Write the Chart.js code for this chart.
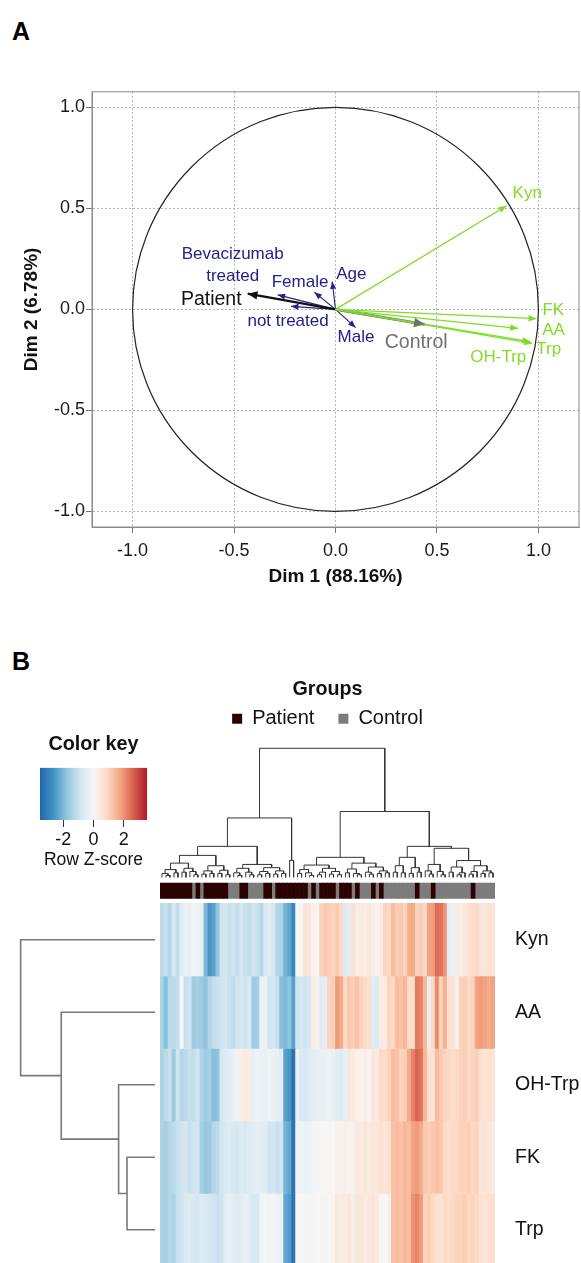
<!DOCTYPE html>
<html>
<head>
<meta charset="utf-8">
<script src="https://cdn.jsdelivr.net/npm/chart.js@4.4.1/dist/chart.umd.min.js"></script>
<style>
  html, body { margin: 0; padding: 0; background: #fff; overflow: hidden; }
  #page { position: relative; width: 581px; height: 1263px; overflow: hidden; font-family: "Liberation Sans", Arial, sans-serif; }
  canvas { position: absolute; }
  .panel { position: absolute; font-weight: bold; font-size: 25px; line-height: 1; color: #000; }
</style>
</head>
<body>
<div id="page">
  <div class="panel" style="left:12px; top:19px;">A</div>
  <div class="panel" style="left:12px; top:649px;">B</div>
  <canvas id="pca" width="581" height="520" style="left:0; top:80px;"></canvas>
  <canvas id="key" width="130" height="146" style="left:30px; top:729px;"></canvas>
  <canvas id="heat" width="581" height="596" style="left:0; top:670px;"></canvas>
</div>
<script>
// ---- panel A: variables on the first two dimensions ----
const varNames = ['Kyn', 'FK', 'AA', 'Trp', 'OH-Trp', 'Patient', 'Control', 'Age', 'Female', 'Male', 'Bevacizumab treated', 'not treated'];
const varKind = ['active', 'active', 'active', 'active', 'active', 'Patient', 'Control', 'supp', 'supp', 'supp', 'supp', 'supp'];
const dim1 = [0.843, 0.990, 0.900, 0.970, 0.960, -0.433, 0.440, -0.016, -0.104, 0.099, -0.285, -0.219];
const dim2 = [0.513, -0.046, -0.094, -0.168, -0.160, 0.078, -0.074, 0.138, 0.085, -0.090, 0.072, 0.015];
const axisTicks = [-1, -0.5, 0, 0.5, 1];

// ---- panel B: heatmap (row z-scores), sample groups, dendrograms ----
const metabolites = ['Kyn', 'AA', 'OH-Trp', 'FK', 'Trp'];
const zKyn = [-1.2, -1.0, -1.3, -0.7, -1.1, -0.5, -0.3, -0.4, -0.1, -0.2,
  -0.3, -2.0, -2.6, -2.4, -1.8, -0.9, -0.8, -1.0, -0.9, -1.1,
  -0.8, -1.0, -1.1, -0.9, -1.0, -1.3, -0.7, -0.5, -0.8, -1.3,
  -1.4, -2.1, -2.3, -2.9, 0.0, 0.1, 0.6, 0.5, 0.2, 0.1,
  1.0, 1.2, 1.1, 1.0, 1.2, 0.9, -0.6, -0.5, 0.7, 0.3,
  0.4, 0.3, 0.5, 0.3, 0.2, 0.4, 1.0, 0.9, 1.4, 1.1,
  1.2, 1.0, 1.6, 1.7, 1.0, 1.1, 0.9, 1.8, 1.9, 2.5,
  2.4, 2.0, -0.4, -0.3, 0.4, 0.3, 0.5, 0.7, 0.8, 0.9,
  0.6, 0.5, 0.7, 0.6];
const zAA = [-1.4, -1.9, -1.2, -1.2, -1.1, -0.1, -1.0, -0.9, -1.6, -1.5,
  -1.6, -1.8, -1.3, -1.1, -1.0, -0.9, -0.8, -1.0, -1.1, -0.9,
  -0.8, -0.9, -0.7, -1.6, -1.5, -0.2, -0.3, -0.9, -0.8, -1.0,
  -1.9, -2.0, -1.8, -2.4, -0.9, -0.8, -0.9, -0.7, 0.3, 0.2,
  -0.5, -0.4, 1.0, 1.1, 1.9, 1.7, 0.9, 1.2, 1.1, 1.3,
  1.0, 0.9, 0.8, -0.5, -0.6, 0.4, 0.3, 1.0, 0.9, 1.4,
  1.3, 1.5, 0.9, 0.8, 2.3, 2.2, 1.5, -0.4, 0.9, 2.1,
  1.0, 1.6, 0.7, 0.6, 0.2, 1.0, 1.1, 0.9, 1.0, 1.8,
  1.9, 1.8, 1.7, 1.8];
const zOHTrp = [-1.4, -1.2, -1.0, -1.6, -0.9, -1.3, -1.2, -1.0, -1.1, -0.9,
  -1.4, -1.6, -1.5, -1.9, -1.8, -0.7, -0.6, -0.5, -0.3, -0.2,
  0.3, 0.4, 0.3, -0.3, -0.2, -0.3, -0.3, -0.2, -0.3, -0.4,
  -0.5, -2.4, -2.6, -3.3, -0.3, -0.7, -0.8, -0.6, -0.5, -0.4,
  -0.3, -0.3, -0.2, -0.3, -0.5, -0.6, -0.4, 0.5, 0.4, 0.2,
  0.2, 0.3, 0.1, 0.5, 0.4, 0.9, 0.8, 1.0, 1.4, 1.3,
  1.0, 1.1, 1.7, 2.2, 2.6, 2.4, 1.5, 0.7, 0.6, 1.4,
  1.2, 1.0, 0.9, 0.8, 0.9, 1.0, 1.1, 0.9, 1.0, 1.1,
  0.7, 0.6, 0.7, 0.6];
const zFK = [-1.4, -1.5, -1.3, -1.2, -1.0, -0.9, -0.8, -1.0, -0.9, -0.8,
  -1.5, -1.7, -1.6, -1.3, -1.2, -0.8, -0.7, -0.6, -0.7, -0.8,
  -0.6, -0.7, -0.6, -0.5, -0.4, -0.5, -0.5, -0.9, -0.8, -1.0,
  -0.9, -2.1, -2.3, -3.3, -0.2, -0.2, -0.3, -0.2, -0.1, -0.1,
  0.0, 0.0, 0.1, 0.0, 0.2, 0.2, 0.3, 0.2, 0.2, 0.4,
  0.4, 0.5, 0.4, 0.5, 0.5, 0.7, 0.6, 0.7, 1.3, 1.4,
  1.3, 1.5, 1.4, 1.8, 1.9, 1.7, 1.2, 1.1, 1.2, 1.3,
  1.2, 0.9, 0.8, 0.9, 0.9, 1.0, 1.0, 1.1, 0.9, 1.0,
  0.5, 0.6, 0.5, 0.4];
const zTrp = [-1.4, -1.5, -1.3, -1.4, -1.0, -0.9, -0.7, -0.6, -0.7, -0.8,
  -0.6, -0.7, -0.8, -0.9, -1.0, -0.9, -0.5, -0.4, -0.5, -0.6,
  -0.5, -0.4, -0.5, -0.7, -0.7, -0.2, -0.1, -0.2, -0.1, -0.2,
  -0.3, -2.3, -2.5, -3.3, 0.0, 0.0, -0.1, 0.1, -0.1, 0.0,
  0.1, -0.1, 0.0, 0.1, 0.4, 0.3, 0.4, 0.5, 0.3, 0.5,
  0.5, 0.4, 0.5, 0.6, 0.4, 0.1, 0.0, 0.2, 1.3, 1.4,
  1.3, 1.5, 1.4, 2.0, 2.2, 1.9, 1.0, 1.1, 0.9, 0.7,
  0.6, 0.9, 0.8, 0.9, 1.0, 1.0, 1.1, 0.9, 1.0, 0.9,
  0.7, 0.6, 0.7, 0.8];
// P = Patient, C = Control, in heatmap column order
const sampleGroup = ('PPPPPPPP CPC PPPPPP CCC PP CCCC PP C PPPPPPPP CPC ' +
  'PPPP C PPP C P CCC P C P CCCCCCCC P CCC P CCCCCCCCC P CCCCC').replace(/ /g, '').split('');
const groupNames = ['Patient', 'Control'];
const keyRange = [-3.55, 3.55];
const keyTicks = [-2, 0, 2];
// dendrograms: [mergeHeight, left, right], leaves are column / row indices
const colTree = [10,
  [4.6,
    [2.4,
      [1.7,
        [1.1, [0.6, [0.3, 0, [0.15, 1, 2]], [0.35, 3, 4]], [0.7, [0.4, 5, 6], [0.45, 7, [0.2, 8, 9]]]],
        [0.9, [0.5, [0.25, 10, 11], [0.3, 12, 13]], [0.55, [0.3, 14, 15], [0.2, 16, 17]]]],
      [1.0,
        [0.7, [0.35, 18, [0.15, 19, 20]], [0.4, 21, [0.2, 22, 23]]],
        [0.75, [0.45, [0.2, 24, 25], [0.3, 26, 27]], [0.5, [0.25, 28, 29], [0.3, 30, 31]]]]],
    [1.3, 32, 33]],
  [5.1,
    [1.55,
      [0.95, [0.6, [0.3, 34, 35], [0.35, 36, [0.15, 37, 38]]], [0.7, [0.4, [0.2, 39, 40], 41], [0.45, [0.25, 42, 43], [0.2, 44, 45]]]],
      [1.1, [0.65, [0.35, 46, 47], [0.3, 48, [0.2, 49, 50]]], [0.8, [0.4, 51, [0.25, 52, 53]], [0.5, [0.3, 54, 55], [0.35, 56, 57]]]]],
    [2.4,
      [1.55, [0.9, [0.4, 58, 59], [0.35, 60, 61]], [0.75, [0.3, 62, 63], [0.4, 64, 65]]],
      [2.25,
        [1.0, [0.5, 66, [0.25, 67, 68]], [0.45, 69, [0.2, 70, 71]]],
        [1.3, [0.8, [0.4, 72, 73], [0.35, [0.2, 74, 75], 76]], [0.9, [0.45, [0.25, 77, 78], 79], [0.5, [0.3, 80, 81], [0.35, 82, 83]]]]]]]];
const rowTree = [4.8, 0, [3.35, 1, [1.3, 2, [1.0, 3, 4]]]];

Chart.defaults.font.family = '"Liberation Sans", Arial, sans-serif';
Chart.defaults.color = '#111';

// ================= panel A =================
const kindStyle = {
  active: { color: '#80dc26', width: 1.3, font: 17 },
  Patient: { color: '#111111', width: 2.2, font: 19.5 },
  Control: { color: '#707070', width: 2.6, font: 19.5 },
  supp: { color: '#22228a', width: 1.1, font: 17 }
};
const labelPlace = {
  'Kyn': { dx: 6, dy: -12, align: 'left' },
  'FK': { dx: 6, dy: -8, align: 'left' },
  'AA': { dx: 24, dy: 2, align: 'left' },
  'Trp': { dx: 4, dy: 6, align: 'left' },
  'OH-Trp': { dx: -4, dy: 16, align: 'right' },
  'Patient': { dx: -6, dy: 6, align: 'right' },
  'Control': { dx: -40, dy: 18, align: 'left' },
  'Age': { dx: 4, dy: -7, align: 'left' },
  'Female': { dx: 14, dy: -10, align: 'right' },
  'Male': { dx: -18, dy: 10, align: 'left' },
  'Bevacizumab treated': { dx: -45, dy: -41, align: 'center', lines: ['Bevacizumab', 'treated'] },
  'not treated': { dx: -3, dy: 15, align: 'center' }
};

const pcaDecor = {
  id: 'pcaDecor',
  beforeDatasetsDraw(chart) {
    const { ctx, chartArea: a, scales: { x, y } } = chart;
    ctx.save();
    ctx.strokeStyle = '#8a8a8a';
    ctx.lineWidth = 1;
    ctx.strokeRect(a.left, a.top, a.right - a.left, a.bottom - a.top);
    const cx = x.getPixelForValue(0), cy = y.getPixelForValue(0);
    ctx.strokeStyle = '#222';
    ctx.lineWidth = 1.2;
    ctx.beginPath();
    ctx.ellipse(cx, cy, x.getPixelForValue(1) - cx, cy - y.getPixelForValue(1), 0, 0, Math.PI * 2);
    ctx.stroke();
    ctx.restore();
  },
  afterDatasetsDraw(chart) {
    const ctx = chart.ctx;
    chart.data.datasets.forEach((ds, i) => {
      const pts = chart.getDatasetMeta(i).data;
      const a = pts[0], b = pts[1];
      const ang = Math.atan2(b.y - a.y, b.x - a.x);
      const len = 5 + ds.borderWidth * 2.2, half = 1.8 + ds.borderWidth * 1.1;
      const st = kindStyle[varKind[i]];
      ctx.save();
      ctx.fillStyle = ds.borderColor;
      ctx.beginPath();
      ctx.moveTo(b.x, b.y);
      ctx.lineTo(b.x - len * Math.cos(ang) + half * Math.sin(ang), b.y - len * Math.sin(ang) - half * Math.cos(ang));
      ctx.lineTo(b.x - len * Math.cos(ang) - half * Math.sin(ang), b.y - len * Math.sin(ang) + half * Math.cos(ang));
      ctx.closePath();
      ctx.fill();
      // label
      const p = labelPlace[ds.label];
      ctx.font = st.font + 'px "Liberation Sans", Arial, sans-serif';
      ctx.textAlign = p.align;
      ctx.textBaseline = 'middle';
      const lines = p.lines || [ds.label];
      lines.forEach((t, k) => ctx.fillText(t, b.x + p.dx, b.y + p.dy + k * 22));
      ctx.restore();
    });
  }
};

const axisStyle = {
  type: 'linear',
  afterBuildTicks: s => { s.ticks = axisTicks.map(v => ({ value: v })); },
  grid: { color: '#b4b4b4', lineWidth: 1, tickLength: 6, tickColor: '#777' },
  border: { color: '#8a8a8a', dash: [2, 2] },
  ticks: { callback: v => v.toFixed(1), font: { size: 18 }, color: '#1a1a1a', maxRotation: 0, autoSkip: false }
};

new Chart(document.getElementById('pca'), {
  type: 'scatter',
  data: {
    datasets: varNames.map((name, i) => ({
      label: name,
      data: [{ x: 0, y: 0 }, { x: dim1[i], y: dim2[i] }],
      showLine: true,
      borderColor: kindStyle[varKind[i]].color,
      borderWidth: kindStyle[varKind[i]].width,
      pointRadius: 0
    }))
  },
  options: {
    responsive: false,
    animation: false,
    events: [],
    layout: { padding: { top: 11, right: 2, left: 0, bottom: 0 } },
    plugins: { legend: { display: false }, tooltip: { enabled: false } },
    scales: {
      x: {
        ...axisStyle, min: -1.2, max: 1.2,
        ticks: { ...axisStyle.ticks, padding: 7 },
        afterFit: s => { s.height = 73; },
        title: { display: true, text: 'Dim 1 (88.16%)', font: { size: 19, weight: 'bold' }, color: '#111', padding: { top: 0, bottom: 11.6 } }
      },
      y: {
        ...axisStyle, min: -1.077, max: 1.077,
        ticks: { ...axisStyle.ticks, padding: 1 },
        afterFit: s => { s.width = 92; },
        title: { display: true, text: 'Dim 2 (6.78%)', font: { size: 19, weight: 'bold' }, color: '#111', padding: { top: 20.6, bottom: 0 } }
      }
    }
  },
  plugins: [pcaDecor]
});

// ================= panel B =================
const palette = ['#2166ac', '#4393c3', '#92c5de', '#d1e5f0', '#f7f7f7', '#fddbc7', '#f4a582', '#d6604d', '#b2182b'];
function hexRgb(h) { return [1, 3, 5].map(k => parseInt(h.slice(k, k + 2), 16)); }
function zColor(v) {
  let t = (v - keyRange[0]) / (keyRange[1] - keyRange[0]);
  t = Math.max(0, Math.min(1, t)) * (palette.length - 1);
  const i = Math.min(Math.floor(t), palette.length - 2), f = t - i;
  const a = hexRgb(palette[i]), b = hexRgb(palette[i + 1]);
  return 'rgb(' + a.map((c, k) => Math.round(c + (b[k] - c) * f)).join(',') + ')';
}

// colour key
new Chart(document.getElementById('key'), {
  type: 'bar',
  data: {
    labels: [''],
    datasets: [{
      data: [keyRange],
      barPercentage: 1, categoryPercentage: 1, borderWidth: 0,
      backgroundColor: c => {
        const area = c.chart.chartArea;
        if (!area) return palette[4];
        const g = c.chart.ctx.createLinearGradient(area.left, 0, area.right, 0);
        palette.forEach((col, i) => g.addColorStop(i / (palette.length - 1), col));
        return g;
      }
    }]
  },
  options: {
    indexAxis: 'y',
    responsive: false,
    animation: false,
    events: [],
    layout: { padding: { left: 10, right: 13, top: 0, bottom: 0 } },
    plugins: {
      legend: { display: false }, tooltip: { enabled: false },
      title: { display: true, text: 'Color key', font: { size: 19.8, weight: 'bold' }, color: '#111', padding: { top: 4, bottom: 11 } }
    },
    scales: {
      y: { display: false },
      x: {
        type: 'linear', min: keyRange[0], max: keyRange[1],
        afterBuildTicks: s => { s.ticks = keyTicks.map(v => ({ value: v })); },
        afterFit: s => { s.height = 55; },
        grid: { drawOnChartArea: false, tickLength: 7, tickColor: '#333' },
        border: { display: false },
        ticks: { font: { size: 18 }, color: '#111', padding: 2, maxRotation: 0 },
        title: { display: true, text: 'Row Z-score', font: { size: 17.5 }, color: '#111', padding: { top: 0, bottom: 4 } }
      }
    }
  }
});

// dendrogram geometry from the trees
function walkTree(node, leafPos, out) {
  if (!Array.isArray(node)) return [leafPos(node), 0];
  const [h, l, r] = node;
  const [pl, hl] = walkTree(l, leafPos, out);
  const [pr, hr] = walkTree(r, leafPos, out);
  out.push([pl, hl, pr, hr, h]);
  return [(pl + pr) / 2, h];
}
const GAP = { x: NaN, y: NaN };
const colLinks = [];
walkTree(colTree, c => c + 0.5, colLinks);
const dendroBase = 5.36, dendroScale = 0.178;
const colPts = [];
colLinks.forEach(([pl, hl, pr, hr, h]) => {
  const Y = v => dendroBase + v * dendroScale;
  colPts.push({ x: pl, y: Y(hl) }, { x: pl, y: Y(h) }, { x: pr, y: Y(h) }, { x: pr, y: Y(hr) }, GAP);
});
const nRows = metabolites.length;
const rowLinks = [];
walkTree(rowTree, r => nRows - r - 0.5, rowLinks);
const rowBase = -1.25, rowScale = 7.02;
const rowPts = [];
rowLinks.forEach(([pl, hl, pr, hr, h]) => {
  const X = v => rowBase - v * rowScale;
  rowPts.push({ x: X(hl), y: pl }, { x: X(h), y: pl }, { x: X(h), y: pr }, { x: X(hr), y: pr }, GAP);
});

const heatRows = [zKyn, zAA, zOHTrp, zFK, zTrp];
const heatSets = heatRows.map((row, i) => ({
  type: 'bar',
  label: metabolites[i],
  data: row.map((v, c) => ({ x: c + 0.5, y: [nRows - i - 1, nRows - i] })),
  backgroundColor: row.map(zColor),
  borderWidth: 0, grouped: false, barPercentage: 1, categoryPercentage: 1
}));
const groupColors = { Patient: '#2b0202', Control: '#7c7c7c' };
const groupSets = groupNames.map(g => ({
  type: 'bar',
  label: g,
  data: sampleGroup.map((s, c) => (s === g[0] ? { x: c + 0.5, y: [5.07, 5.28] } : null)).filter(d => d),
  backgroundColor: groupColors[g],
  borderWidth: 0, grouped: false, barPercentage: 1, categoryPercentage: 1
}));
const lineSet = (pts, color, width) => ({
  type: 'scatter', label: '', data: pts, showLine: true, spanGaps: false,
  borderColor: color, borderWidth: width, pointRadius: 0, clip: false
});

const rowLabels = {
  id: 'rowLabels',
  afterDatasetsDraw(chart) {
    const { ctx, chartArea, scales: { y } } = chart;
    ctx.save();
    ctx.font = '19.5px "Liberation Sans", Arial, sans-serif';
    ctx.fillStyle = '#111';
    ctx.textAlign = 'left';
    ctx.textBaseline = 'middle';
    metabolites.forEach((m, i) => ctx.fillText(m, chartArea.right + 20, y.getPixelForValue(nRows - i - 0.5)));
    ctx.restore();
  }
};

new Chart(document.getElementById('heat'), {
  type: 'bar',
  data: {
    datasets: [...heatSets, ...groupSets, lineSet(colPts, '#333', 1), lineSet(rowPts, '#7a7a7a', 1.6)]
  },
  options: {
    responsive: false,
    animation: false,
    events: [],
    layout: { padding: { left: 160, right: 86, top: 10, bottom: 0 } },
    plugins: {
      tooltip: { enabled: false },
      legend: {
        display: true, position: 'top', align: 'center', fullSize: false,
        labels: {
          boxWidth: 10, boxHeight: 10, padding: 24, font: { size: 20 }, color: '#111',
          filter: item => groupNames.includes(item.text)
        },
        title: { display: true, text: 'Groups', font: { size: 19.7, weight: 'bold' }, color: '#111', padding: { top: 0, bottom: -18.8 } }
      }
    },
    scales: {
      x: { type: 'linear', min: 0, max: sampleGroup.length, offset: false, display: false },
      y: { type: 'linear', min: 0, max: 7.27, display: false }
    }
  },
  plugins: [rowLabels]
});
</script>
</body>
</html>
